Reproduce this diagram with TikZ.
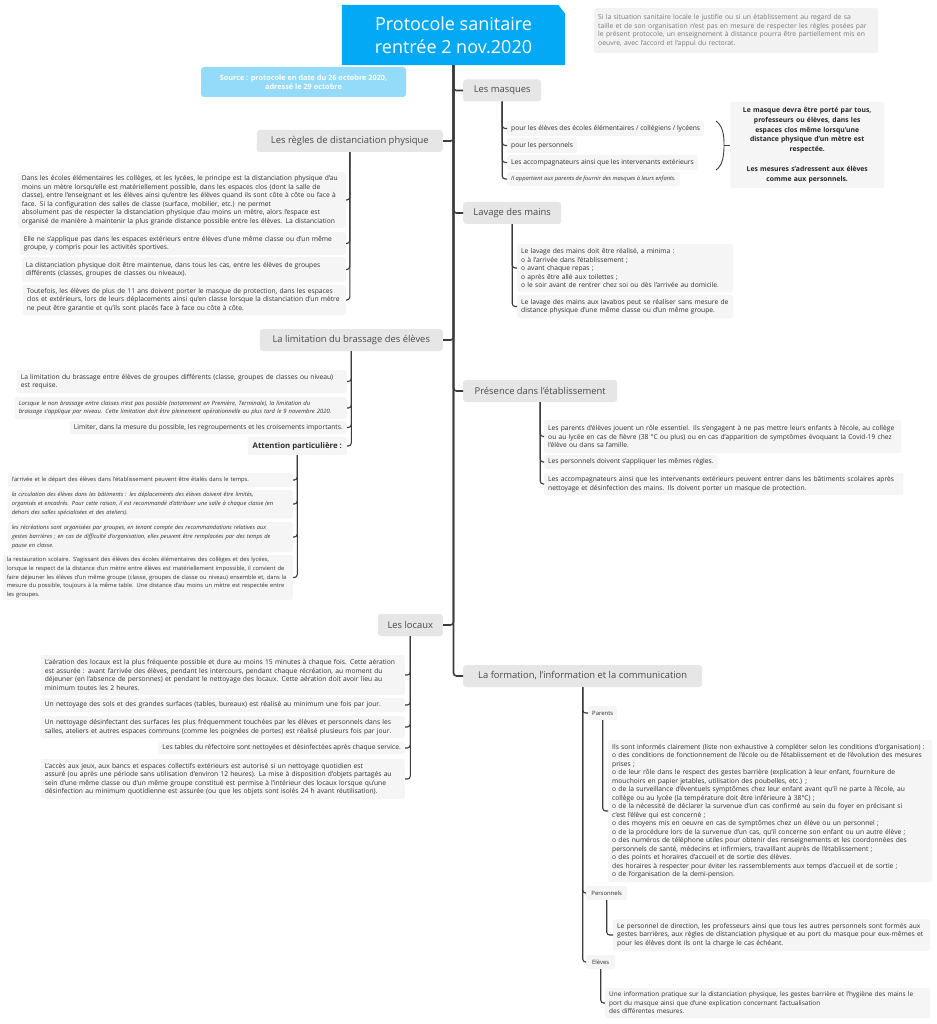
\documentclass[tikz,border=0pt]{standalone}
\usepackage{fontspec}
\setmainfont{Open Sans}
\usetikzlibrary{backgrounds}
\definecolor{titleblue}{HTML}{03A9F4}
\definecolor{srcblue}{HTML}{93DBF8}
\definecolor{headfill}{HTML}{E6E6E6}
\definecolor{leaffill}{HTML}{F5F5F5}
\definecolor{notefill}{HTML}{F2F2F2}
\definecolor{linec}{HTML}{3C3C3C}
\definecolor{txt}{HTML}{303030}
\definecolor{headtxt}{HTML}{4A4A4A}
\definecolor{notetxt}{HTML}{7A7A7A}
\newcommand\myfa{\fontsize{6.7}{8.5}\selectfont}
\newcommand\myfs{\fontsize{5.75}{8.6}\selectfont}
\newcommand\myfh{\fontsize{9.4}{11}\selectfont}
\begin{document}
\begin{tikzpicture}[x=1pt,y=-1pt,
 box/.style={rounded corners=2.5pt, inner xsep=4pt, inner ysep=1.5pt, align=left, text=txt, fill=leaffill, font=\myfa},
 leafR/.style={box, anchor=west},
 leafL/.style={box, anchor=east},
 head/.style={fill=headfill, rounded corners=3pt, text=headtxt, font=\myfh, minimum height=22pt, inner xsep=0pt, inner ysep=0pt},
 headR/.style={head, anchor=west},
 headL/.style={head, anchor=east},
 trunk/.style={draw=linec, line width=1.6pt, rounded corners=3pt},
 conn/.style={draw=linec, line width=1.1pt, rounded corners=3pt},
 sub/.style={box, anchor=west, font=\fontsize{5.9}{7}\selectfont, minimum height=14pt, inner xsep=1pt, align=center},
]
\useasboundingbox (0,0) rectangle (936,1024);

% title
\node[minimum width=223pt, minimum height=60pt, inner sep=0pt, text=white, font=\fontsize{18}{23}\selectfont, align=center] (title) at (453.5,35) {Protocole sanitaire\\rentrée 2 nov.2020};
\begin{scope}[on background layer]
\fill[white] (0,0) rectangle (936,1024);
\fill[titleblue] (title.south west) -- (title.north west) -- ([xshift=-7pt]title.north east) -- ([yshift=-9pt]title.north east) -- (title.south east) -- cycle;
\end{scope}

\node[fill=srcblue, rounded corners=3pt, minimum width=205pt, minimum height=30pt, text=white, font=\bfseries\fontsize{7.3}{9}\selectfont, align=center] (src) at (303.5,82) {Source : protocole en date du 26 octobre 2020,\\adressé le 29 octobre};

\node[box, anchor=north west, text width=276pt, minimum height=45pt, fill=notefill, text=notetxt, font=\fontsize{6.8}{8.6}\selectfont, inner ysep=3pt] (note) at (594,8) {Si la situation sanitaire locale le justifie ou si un établissement au regard de sa\\taille et de son organisation n'est pas en mesure de respecter les règles posées par\\le présent protocole, un enseignement à distance pourra être partiellement mis en\\oeuvre, avec l'accord et l'appui du rectorat.};

% headings
\node[headR, minimum width=78pt] (masques) at (463,90.5) {Les masques};
\node[headL, minimum width=186pt] (regles) at (443,141) {Les règles de distanciation physique};
\node[headR, minimum width=98pt] (lavage) at (463,213) {Lavage des mains};
\node[headL, minimum width=183pt] (limit) at (443,340) {La limitation du brassage des élèves};
\node[headR, minimum width=154pt] (presence) at (463,391) {Présence dans l'établissement};
\node[headL, minimum width=65pt] (locaux) at (443,625) {Les locaux};
\node[headR, minimum width=239pt] (formation) at (463,676) {La formation, l'information et la communication};

\foreach \h in {masques,regles,lavage,limit,presence,locaux,formation}
  \draw[trunk] (title.south) |- (\h);

% masques
\node[leafR, minimum height=15pt] (m1) at (507,128.5) {pour les élèves des écoles élémentaires / collégiens / lycéens};
\node[leafR, minimum height=15pt] (m2) at (507,145.5) {pour les personnels};
\node[leafR, minimum height=15pt] (m3) at (507,162.5) {Les accompagnateurs ainsi que les intervenants extérieurs};
\node[leafR, minimum height=14pt, font=\myfs\itshape] (m4) at (507,179) {Il appartient aux parents de fournir des masques à leurs enfants.};
\foreach \c in {m1,m2,m3,m4} \draw[conn] (masques.south) |- (\c.west);

\node[box, anchor=west, align=center, text width=146pt, minimum height=86pt, text=black!85, font=\bfseries\fontsize{6.8}{9.8}\selectfont] (resume) at (730,145) {Le masque devra être porté par tous,\\professeurs ou élèves, dans les\\espaces clos même lorsqu'une\\distance physique d'un mètre est\\respectée.\\[9.8pt]Les mesures s'adressent aux élèves\\comme aux personnels.};
\coordinate (bt) at (716,121);
\coordinate (bb) at (716,170);
\coordinate (bm) at (724,145);
\draw[linec, line width=0.9pt] (bt) .. controls (723,126) and (724,135) .. (bm) .. controls (724,155) and (723,165) .. (bb);
\draw[linec, line width=0.9pt] (bm) -- (resume.west);

% regles
\node[leafL, text width=320pt, minimum height=56pt] (r1) at (346,200) {Dans les écoles élémentaires les collèges, et les lycées, le principe est la distanciation physique d'au\\moins un mètre lorsqu'elle est matériellement possible, dans les espaces clos (dont la salle de\\classe), entre l'enseignant et les élèves ainsi qu'entre les élèves quand ils sont côte à côte ou face à\\face. Si la configuration des salles de classe (surface, mobilier, etc.) ne permet\\absolument pas de respecter la distanciation physique d'au moins un mètre, alors l'espace est\\organisé de manière à maintenir la plus grande distance possible entre les élèves. La distanciation};
\node[leafL, text width=318pt, minimum height=23pt] (r2) at (346,243.5) {Elle ne s'applique pas dans les espaces extérieurs entre élèves d'une même classe ou d'un même\\groupe, y compris pour les activités sportives.};
\node[leafL, text width=316pt, minimum height=25pt] (r3) at (346,269.5) {La distanciation physique doit être maintenue, dans tous les cas, entre les élèves de groupes\\différents (classes, groupes de classes ou niveaux).};
\node[leafL, text width=315pt, minimum height=30pt] (r4) at (346,300) {Toutefois, les élèves de plus de 11 ans doivent porter le masque de protection, dans les espaces\\clos et extérieurs, lors de leurs déplacements ainsi qu'en classe lorsque la distanciation d'un mètre\\ne peut être garantie et qu'ils sont placés face à face ou côte à côte.};
\foreach \c in {r1,r2,r3,r4} \draw[conn] (regles.south) |- (\c.east);

% lavage
\node[leafR, text width=208pt, minimum height=48pt] (l1) at (517,268) {Le lavage des mains doit être réalisé, a minima :\\o à l'arrivée dans l'établissement ;\\o avant chaque repas ;\\o après être allé aux toilettes ;\\o le soir avant de rentrer chez soi ou dès l'arrivée au domicile.};
\node[leafR, text width=208pt, minimum height=23pt] (l2) at (517,306.5) {Le lavage des mains aux lavabos peut se réaliser sans mesure de\\distance physique d'une même classe ou d'un même groupe.};
\foreach \c in {l1,l2} \draw[conn] (lavage.south) |- (\c.west);

% limitation
\node[leafL, text width=322pt, minimum height=23pt] (b1) at (347,381.5) {La limitation du brassage entre élèves de groupes différents (classe, groupes de classes ou niveau)\\est requise.};
\node[leafL, text width=324pt, minimum height=22pt, font=\fontsize{5.9}{8.2}\selectfont\itshape] (b2) at (347,408) {Lorsque le non brassage entre classes n'est pas possible (notamment en Première, Terminale), la limitation du\\brassage s'applique par niveau. Cette limitation doit être pleinement opérationnelle au plus tard le 9 novembre 2020.};
\node[leafL, minimum height=13pt] (b3) at (347,427.5) {Limiter, dans la mesure du possible, les regroupements et les croisements importants.};
\node[leafL, minimum height=18pt, minimum width=99pt, align=center, inner xsep=2pt, font=\bfseries\fontsize{7.8}{10}\selectfont] (b4) at (347,446) {Attention particulière :};
\foreach \c in {b1,b2,b3,b4} \draw[conn] (limit.south) |- (\c.east);

% attention
\node[leafL, text width=277pt, minimum height=14pt, font=\myfs] (a1) at (293,480) {l'arrivée et le départ des élèves dans l'établissement peuvent être étalés dans le temps.};
\node[leafL, text width=277pt, minimum height=28pt, font=\myfs\itshape] (a2) at (293,504) {la circulation des élèves dans les bâtiments : les déplacements des élèves doivent être limités,\\organisés et encadrés. Pour cette raison, il est recommandé d'attribuer une salle à chaque classe (en\\dehors des salles spécialisées et des ateliers).};
\node[leafL, text width=277pt, minimum height=30pt, font=\myfs\itshape] (a3) at (293,537) {les récréations sont organisées par groupes, en tenant compte des recommandations relatives aux\\gestes barrières ; en cas de difficulté d'organisation, elles peuvent être remplacées par des temps de\\pause en classe.};
\node[leafL, text width=282pt, minimum height=45pt, font=\myfs] (a4) at (293,577.5) {la restauration scolaire. S'agissant des élèves des écoles élémentaires des collèges et des lycées,\\lorsque le respect de la distance d'un mètre entre élèves est matériellement impossible, il convient de\\faire déjeuner les élèves d'un même groupe (classe, groupes de classe ou niveau) ensemble et, dans la\\mesure du possible, toujours à la même table. Une distance d'au moins un mètre est respectée entre\\les groupes.};
\foreach \c in {a1,a2,a3,a4} \draw[conn] (b4.south) |- (\c.east);

% presence
\node[leafR, text width=349pt, minimum height=33pt] (p1) at (544,436.5) {Les parents d'élèves jouent un rôle essentiel. Ils s'engagent à ne pas mettre leurs enfants à l'école, au collège\\ou au lycée en cas de fièvre (38 °C ou plus) ou en cas d'apparition de symptômes évoquant la Covid-19 chez\\l'élève ou dans sa famille.};
\node[leafR, minimum height=14pt] (p2) at (544,462) {Les personnels doivent s'appliquer les mêmes règles.};
\node[leafR, text width=351pt, minimum height=22pt] (p3) at (544,484) {Les accompagnateurs ainsi que les intervenants extérieurs peuvent entrer dans les bâtiments scolaires après\\nettoyage et désinfection des mains. Ils doivent porter un masque de protection.};
\foreach \c in {p1,p2,p3} \draw[conn] (presence.south) |- (\c.west);

% locaux
\node[leafL, text width=356pt, minimum height=40pt] (c1) at (405,675) {L'aération des locaux est la plus fréquente possible et dure au moins 15 minutes à chaque fois. Cette aération\\est assurée : avant l'arrivée des élèves, pendant les intercours, pendant chaque récréation, au moment du\\déjeuner (en l'absence de personnes) et pendant le nettoyage des locaux. Cette aération doit avoir lieu au\\minimum toutes les 2 heures.};
\node[leafL, text width=356pt, minimum height=14pt] (c2) at (405,705) {Un nettoyage des sols et des grandes surfaces (tables, bureaux) est réalisé au minimum une fois par jour.};
\node[leafL, text width=356pt, minimum height=22pt] (c3) at (405,727) {Un nettoyage désinfectant des surfaces les plus fréquemment touchées par les élèves et personnels dans les\\salles, ateliers et autres espaces communs (comme les poignées de portes) est réalisé plusieurs fois par jour.};
\node[leafL, minimum height=12pt] (c4) at (405,748) {Les tables du réfectoire sont nettoyées et désinfectées après chaque service.};
\node[leafL, text width=356pt, minimum height=40pt] (c5) at (405,779) {L'accès aux jeux, aux bancs et espaces collectifs extérieurs est autorisé si un nettoyage quotidien est\\assuré (ou après une période sans utilisation d'environ 12 heures). La mise à disposition d'objets partagés au\\sein d'une même classe ou d'un même groupe constitué est permise à l'intérieur des locaux lorsque qu'une\\désinfection au minimum quotidienne est assurée (ou que les objets sont isolés 24 h avant réutilisation).};
\foreach \c in {c1,c2,c3,c4,c5} \draw[conn] (locaux.south) |- (\c.east);

% formation
\node[sub, minimum width=29pt] (fpar) at (588,713) {Parents};
\node[sub, minimum width=41pt] (fpers) at (586,893) {Personnels};
\node[sub, minimum width=29pt] (fel) at (586,962) {Elèves};
\foreach \c in {fpar,fpers,fel} \draw[conn] (formation.south) |- (\c.west);

\node[leafR, text width=316pt, minimum height=142pt] (pp) at (608,811) {Ils sont informés clairement (liste non exhaustive à compléter selon les conditions d'organisation) :\\o des conditions de fonctionnement de l'école ou de l'établissement et de l'évolution des mesures\\prises ;\\o de leur rôle dans le respect des gestes barrière (explication à leur enfant, fourniture de\\mouchoirs en papier jetables, utilisation des poubelles, etc.) ;\\o de la surveillance d'éventuels symptômes chez leur enfant avant qu'il ne parte à l'école, au\\collège ou au lycée (la température doit être inférieure à 38°C) ;\\o de la nécessité de déclarer la survenue d'un cas confirmé au sein du foyer en précisant si\\c'est l'élève qui est concerné ;\\o des moyens mis en oeuvre en cas de symptômes chez un élève ou un personnel ;\\o de la procédure lors de la survenue d'un cas, qu'il concerne son enfant ou un autre élève ;\\o des numéros de téléphone utiles pour obtenir des renseignements et les coordonnées des\\personnels de santé, médecins et infirmiers, travaillant auprès de l'établissement ;\\o des points et horaires d'accueil et de sortie des élèves.\\des horaires à respecter pour éviter les rassemblements aux temps d'accueil et de sortie ;\\o de l'organisation de la demi-pension.};
\draw[conn] (fpar.south) |- (pp.west);
\node[leafR, text width=309pt, minimum height=32pt] (pe) at (613,935) {Le personnel de direction, les professeurs ainsi que tous les autres personnels sont formés aux\\gestes barrières, aux règles de distanciation physique et au port du masque pour eux-mêmes et\\pour les élèves dont ils ont la charge le cas échéant.};
\draw[conn] (fpers.south) |- (pe.west);
\node[leafR, text width=317pt, minimum height=30pt, font=\fontsize{6.45}{8.5}\selectfont] (ee) at (605,1003) {Une information pratique sur la distanciation physique, les gestes barrière et l'hygiène des mains le\\port du masque ainsi que d'une explication concernant l'actualisation\\des différentes mesures.};
\draw[conn] (fel.south) |- (ee.west);
\end{tikzpicture}
\end{document}
